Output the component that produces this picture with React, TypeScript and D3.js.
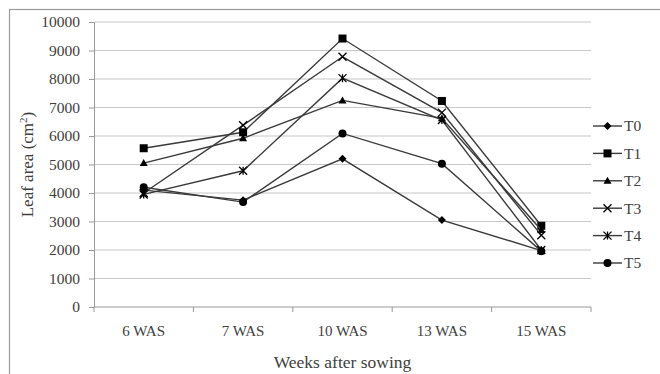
import React, { useRef, useEffect } from "react";
import * as d3 from "d3";

const weeks = ["6 WAS", "7 WAS", "10 WAS", "13 WAS", "15 WAS"];
const yTicks = [0, 1000, 2000, 3000, 4000, 5000, 6000, 7000, 8000, 9000, 10000];

const T0 = [4100, 3750, 5200, 3050, 1980];
const T1 = [5570, 6130, 9420, 7230, 2850];
const T2 = [5050, 5920, 7250, 6620, 2700];
const T3 = [4000, 6380, 8780, 6820, 2520];
const T4 = [3950, 4780, 8030, 6560, 2000];
const T5 = [4200, 3680, 6090, 5030, 1960];

const seriesNames = ["T0", "T1", "T2", "T3", "T4", "T5"];
const seriesValues = [T0, T1, T2, T3, T4, T5];
const markers = ["diamond", "square", "triangle", "cross", "star", "circle"];

const W = 660;
const H = 374;

const App: React.FC = () => {
  const svgRef = useRef<SVGSVGElement>(null);

  useEffect(() => {
    if (!svgRef.current) return;
    const svg = d3.select(svgRef.current);
    svg.selectAll("*").remove();

    const font = "Liberation Serif";
    const textColor = "#404040";
    const left = 94;
    const right = 591;
    const top = 22;
    const bottom = 307;

    // chart frame
    svg
      .append("rect")
      .attr("x", 9.5)
      .attr("y", 9.5)
      .attr("width", 700)
      .attr("height", 500)
      .attr("fill", "white")
      .attr("stroke", "#999")
      .attr("stroke-width", 1.2);

    const x = d3.scaleBand<string>().domain(weeks).range([left, right]);
    const y = d3.scaleLinear().domain([0, 10000]).range([bottom, top]);

    // gridlines
    svg
      .append("g")
      .selectAll("line")
      .data(yTicks.filter((t) => t > 0))
      .enter()
      .append("line")
      .attr("x1", left)
      .attr("x2", right)
      .attr("y1", (d) => y(d))
      .attr("y2", (d) => y(d))
      .attr("stroke", "#c8c8c8")
      .attr("stroke-width", 1.2);

    // y axis
    const yAxis = svg
      .append("g")
      .attr("transform", `translate(${left},0)`)
      .call(d3.axisLeft(y).tickValues(yTicks).tickFormat(d3.format("d")).tickSize(5).tickPadding(9));
    yAxis.attr("font-family", font);
    yAxis.select(".domain").attr("stroke", "#999");
    yAxis.selectAll(".tick line").attr("stroke", "#999");
    yAxis
      .selectAll("text")
      .style("font-family", font)
      .style("font-size", "15.5px")
      .attr("fill", textColor);

    // x axis
    const xAxis = svg
      .append("g")
      .attr("transform", `translate(0,${bottom})`)
      .call(d3.axisBottom(x).tickSize(0).tickPadding(18));
    xAxis.attr("font-family", font);
    xAxis.select(".domain").attr("stroke", "#999").attr("d", `M${left},0H${right}`);
    xAxis
      .selectAll("text")
      .style("font-family", font)
      .style("font-size", "15px")
      .attr("fill", textColor);
    svg
      .append("g")
      .selectAll("line")
      .data(d3.range(weeks.length + 1))
      .enter()
      .append("line")
      .attr("x1", (i) => left + i * x.step())
      .attr("x2", (i) => left + i * x.step())
      .attr("y1", bottom)
      .attr("y2", bottom + 5)
      .attr("stroke", "#999");

    // axis titles
    svg
      .append("text")
      .attr("x", (left + right) / 2)
      .attr("y", 368)
      .attr("text-anchor", "middle")
      .style("font-family", font)
      .style("font-size", "17.5px")
      .attr("fill", textColor)
      .text("Weeks after sowing");

    const yt = svg
      .append("text")
      .attr("transform", `translate(33,${(top + bottom) / 2}) rotate(-90)`)
      .attr("text-anchor", "middle")
      .style("font-family", font)
      .style("font-size", "17px")
      .attr("fill", textColor);
    yt.append("tspan").text("Leaf area (cm");
    yt.append("tspan").attr("dy", -6).style("font-size", "11px").text("2");
    yt.append("tspan").attr("dy", 6).text(")");

    const drawMarker = (g: any, kind: string, size: number) => {
      const s = size;
      if (kind === "diamond") {
        g.append("path")
          .attr("d", `M0,${-s / 2}L${s / 2},0L0,${s / 2}L${-s / 2},0Z`)
          .attr("fill", "#000");
      } else if (kind === "square") {
        g.append("rect").attr("x", -s / 2).attr("y", -s / 2).attr("width", s).attr("height", s).attr("fill", "#000");
      } else if (kind === "triangle") {
        g.append("path")
          .attr("d", `M0,${-s / 2}L${s / 2},${s / 2 - 1}L${-s / 2},${s / 2 - 1}Z`)
          .attr("fill", "#000");
      } else if (kind === "cross") {
        g.append("path")
          .attr("d", `M${-s / 2},${-s / 2}L${s / 2},${s / 2}M${-s / 2},${s / 2}L${s / 2},${-s / 2}`)
          .attr("stroke", "#000")
          .attr("stroke-width", 1.3)
          .attr("fill", "none");
      } else if (kind === "star") {
        g.append("path")
          .attr("d", `M${-s / 2},${-s / 2}L${s / 2},${s / 2}M${-s / 2},${s / 2}L${s / 2},${-s / 2}M0,${-s / 2}L0,${s / 2}`)
          .attr("stroke", "#000")
          .attr("stroke-width", 1.3)
          .attr("fill", "none");
      } else if (kind === "circle") {
        g.append("circle").attr("r", s / 2).attr("fill", "#000");
      }
    };

    const line = d3
      .line<number>()
      .x((_, i) => (x(weeks[i]) as number) + x.bandwidth() / 2)
      .y((d) => y(d));

    seriesValues.forEach((vals, si) => {
      const g = svg.append("g");
      g.append("path")
        .attr("d", line(vals))
        .attr("fill", "none")
        .attr("stroke", "#3a3a3a")
        .attr("stroke-width", 1.4);
      vals.forEach((v, i) => {
        const mg = g
          .append("g")
          .attr("transform", `translate(${(x(weeks[i]) as number) + x.bandwidth() / 2},${y(v)})`);
        drawMarker(mg, markers[si], 8);
      });
    });

    // legend
    const legend = svg.append("g");
    seriesNames.forEach((name, i) => {
      const ly = 126 + i * 27.4;
      const lg = legend.append("g").attr("transform", `translate(0,${ly})`);
      lg.append("line")
        .attr("x1", 593)
        .attr("x2", 622)
        .attr("y1", 0)
        .attr("y2", 0)
        .attr("stroke", "#3a3a3a")
        .attr("stroke-width", 1.4);
      const mg = lg.append("g").attr("transform", "translate(607.5,0)");
      drawMarker(mg, markers[i], 8);
      lg.append("text")
        .attr("x", 624)
        .attr("y", 0)
        .attr("dy", "0.35em")
        .style("font-family", font)
        .style("font-size", "15.5px")
        .attr("fill", textColor)
        .text(name);
    });
  }, []);

  return (
    <svg
      ref={svgRef}
      width={W}
      height={H}
      style={{ position: "fixed", left: 0, top: 0, display: "block", background: "white" }}
    ></svg>
  );
};

export default App;
